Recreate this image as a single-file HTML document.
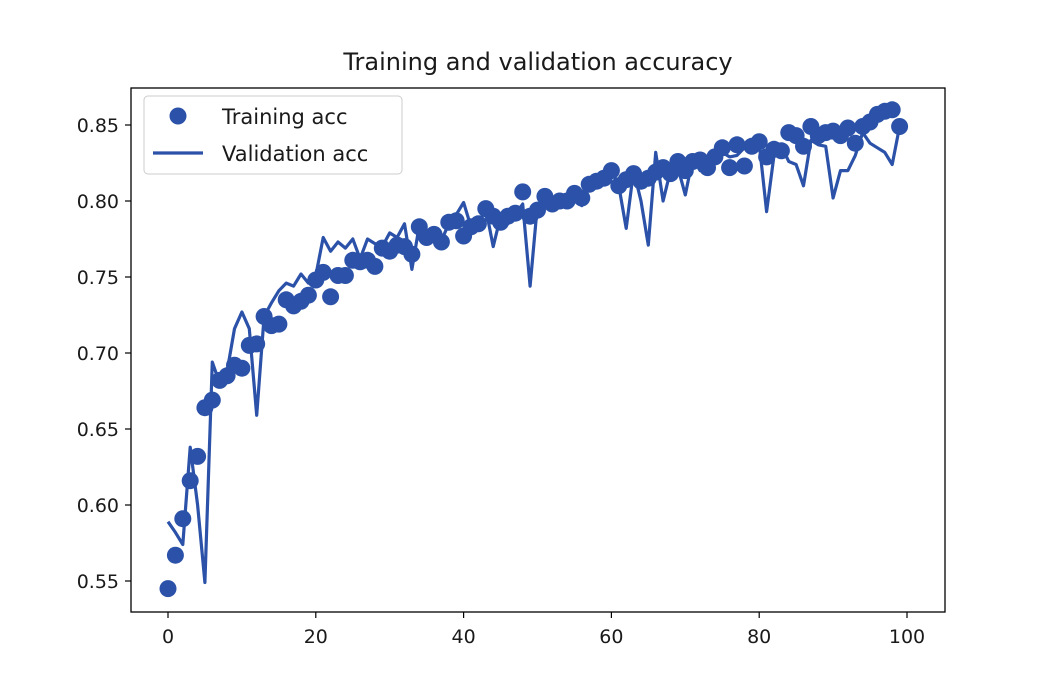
<!DOCTYPE html>
<html><head><meta charset="utf-8"><style>body{margin:0;background:#fff}svg{display:block}text{font-family:"DejaVu Sans","Liberation Sans",sans-serif;fill:#1a1a1a}</style></head>
<body>
<svg id="s" width="1050" height="700" xmlns="http://www.w3.org/2000/svg">
<rect width="1050" height="700" fill="#fff"/>
<text x="538" y="70" font-size="24" text-anchor="middle">Training and validation accuracy</text>
<g id="plot"></g>
<rect x="131" y="88" width="814" height="524" fill="none" stroke="#000" stroke-width="1.3"/>
<g id="ticks"></g>
<g>
<rect x="144" y="96" width="258" height="78" rx="4" fill="#fff" fill-opacity="0.85" stroke="#ccc"/>
<circle cx="178" cy="116" r="8.5" fill="#2b52a8"/>
<text x="222" y="124" font-size="21">Training acc</text>
<line x1="153" y1="153" x2="203" y2="153" stroke="#2b52a8" stroke-width="3.2"/>
<text x="222" y="161" font-size="21">Validation acc</text>
</g>
</svg>
<script>
var tr=[.545,.567,.591,.616,.632,.664,.669,.682,.685,.692,.690,.705,.706,.724,.718,.719,.735,.731,.734,.738,.748,.753,.737,.751,.751,.761,.760,.761,.757,.769,.767,.771,.770,.765,.783,.776,.778,.773,.786,.787,.777,.783,.785,.795,.790,.786,.790,.792,.806,.790,.794,.803,.798,.800,.800,.805,.802,.811,.813,.815,.820,.810,.814,.818,.813,.815,.819,.822,.818,.826,.820,.826,.827,.822,.829,.835,.822,.837,.823,.836,.839,.829,.834,.833,.845,.843,.836,.849,.843,.845,.846,.843,.848,.838,.849,.852,.857,.859,.860,.849];
var va=[.589,.582,.574,.638,.600,.549,.694,.680,.688,.716,.727,.716,.659,.724,.733,.741,.746,.744,.752,.746,.751,.776,.767,.773,.769,.775,.762,.775,.772,.770,.779,.776,.785,.755,.784,.774,.778,.774,.785,.791,.799,.783,.785,.795,.770,.790,.785,.791,.798,.744,.798,.800,.797,.802,.800,.800,.797,.810,.810,.815,.821,.810,.782,.820,.800,.771,.832,.800,.820,.822,.804,.828,.820,.822,.830,.832,.829,.830,.835,.836,.838,.793,.830,.836,.826,.824,.810,.840,.837,.836,.802,.820,.820,.830,.845,.838,.835,.832,.824,.849];
function X(i){return 168+i*7.39}function Y(v){return 125+(0.85-v)*1520}
var p=document.getElementById('plot'),h='';
tr.forEach(function(v,i){h+='<circle cx="'+X(i).toFixed(1)+'" cy="'+Y(v).toFixed(1)+'" r="8.5" fill="#2b52a8"/>'});
h+='<polyline fill="none" stroke="#2b52a8" stroke-width="3.2" stroke-linejoin="round" points="'+va.map(function(v,i){return X(i).toFixed(1)+','+Y(v).toFixed(1)}).join(' ')+'"/>';
p.innerHTML=h;
var t='';
for(var k=0;k<=5;k++){var x=X(k*20);t+='<line x1="'+x+'" y1="612" x2="'+x+'" y2="618" stroke="#000" stroke-width="1.2"/><text x="'+x+'" y="643" font-size="19" text-anchor="middle">'+(k*20)+'</text>';}
for(var k=0;k<=6;k++){var v=0.55+k*0.05,y=Y(v);t+='<line x1="125" y1="'+y+'" x2="131" y2="'+y+'" stroke="#000" stroke-width="1.2"/><text x="119" y="'+(y+7)+'" font-size="19" text-anchor="end">'+v.toFixed(2)+'</text>';}
document.getElementById('ticks').innerHTML=t;
</script>
</body></html>
